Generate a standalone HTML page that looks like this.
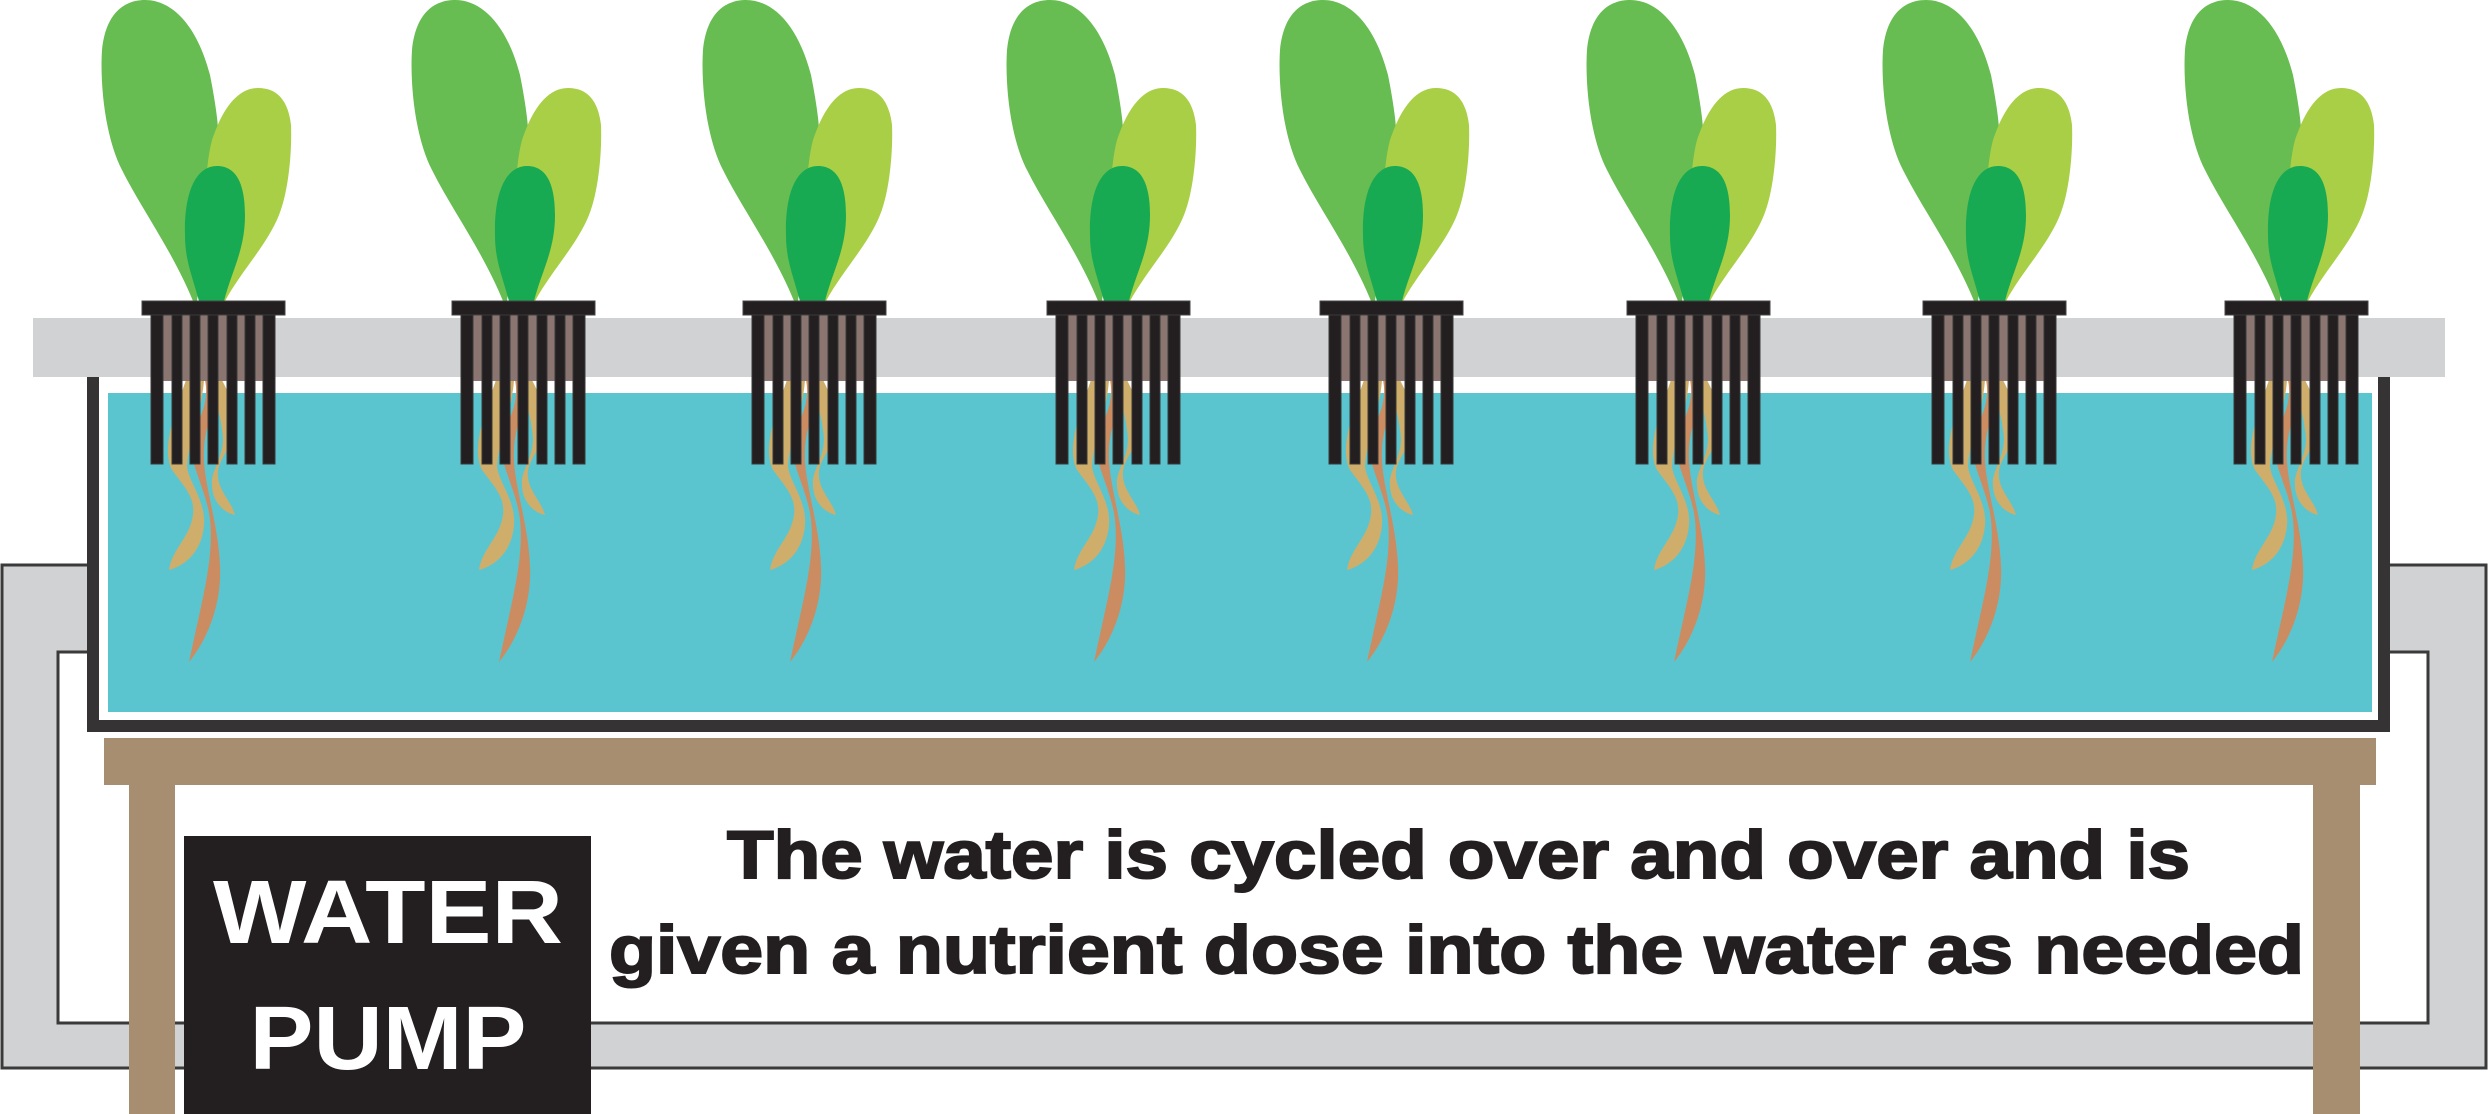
<!DOCTYPE html>
<html><head><meta charset="utf-8"><style>html,body{margin:0;padding:0;background:#fff}svg{display:block}</style></head>
<body>
<svg width="2488" height="1114" viewBox="0 0 2488 1114" xmlns="http://www.w3.org/2000/svg">
<defs>
<g id="plant">
  <path d="M51 301 C30 250 0 210 -20 170 C-38 135 -42 80 -40 50 C-36 10 -15 0 3 0 C30 0 55 25 68 75 C72 95 76 120 76 130 L55 301 Z" fill="#67bc52"/>
  <path d="M83 301 C100 270 125 245 137 215 C147 190 150 150 149 125 C146 100 135 88 116 88 C95 88 80 110 70 140 C62 170 60 230 75 301 Z" fill="#a8cf45"/>
  <path d="M57 301 C50 275 43 260 43 235 C42 190 55 166 75 166 C95 166 103 185 103 215 C103 250 90 270 82 301 Z" fill="#17aa52"/>
  <path d="M44 380 C30 420 20 450 30 470 C45 490 55 500 50 520 C45 540 30 550 27 570 C45 565 60 550 62 525 C64 500 45 480 45 465 C47 440 60 410 62 380 Z" fill="#cfae6b"/>
  <path d="M80 380 C90 400 100 420 88 445 C80 460 70 470 80 490 C85 500 90 505 93 515 C80 512 70 500 70 485 C68 470 85 455 80 430 C78 410 70 395 70 380 Z" fill="#cfae6b"/>
  <path d="M63 380 C68 405 55 420 50 440 C45 460 65 490 68 520 C72 560 60 600 47 662 C65 640 80 605 78 565 C76 520 60 480 62 450 C63 420 78 405 72 380 Z" fill="#cc8c62"/>
  <rect x="9" y="315" width="124" height="66" fill="#8a7570"/>
  <rect x="0" y="301" width="143" height="14" fill="#231f20" stroke="#444" stroke-width="1"/>
  <g fill="#231f20" stroke="#3a3a3a" stroke-width="1">
    <rect x="9" y="315" width="12" height="149"/>
    <rect x="30" y="315" width="10" height="149"/>
    <rect x="48" y="315" width="10" height="149"/>
    <rect x="66" y="315" width="10" height="149"/>
    <rect x="85" y="315" width="10" height="149"/>
    <rect x="103" y="315" width="10" height="149"/>
    <rect x="121" y="315" width="12" height="149"/>
  </g>
</g>
</defs>
<rect x="2" y="565" width="2484" height="503" fill="#d1d2d4" stroke="#3a3a3a" stroke-width="3"/>
<rect x="58" y="652" width="2370" height="371" fill="#fff" stroke="#3a3a3a" stroke-width="3"/>
<rect x="93" y="370" width="2291" height="356" fill="#fff" stroke="#353334" stroke-width="12"/>
<rect x="108" y="393" width="2264" height="319" fill="#5bc5cf"/>
<rect x="33" y="318" width="2412" height="59" fill="#d1d2d4"/>
<rect x="104" y="738" width="2272" height="47" fill="#a88e70"/>
<rect x="129" y="785" width="46" height="329" fill="#a88e70"/>
<rect x="2313" y="785" width="47" height="329" fill="#a88e70"/>
<use href="#plant" x="142" y="0"/>
<use href="#plant" x="452" y="0"/>
<use href="#plant" x="743" y="0"/>
<use href="#plant" x="1047" y="0"/>
<use href="#plant" x="1320" y="0"/>
<use href="#plant" x="1627" y="0"/>
<use href="#plant" x="1923" y="0"/>
<use href="#plant" x="2225" y="0"/>
<rect x="184" y="836" width="407" height="278" fill="#231f20"/>
<g font-family="Liberation Sans, Arial, sans-serif" font-weight="bold" fill="#fff" text-anchor="middle">
  <text x="388" y="943" font-size="90" textLength="350" lengthAdjust="spacingAndGlyphs">WATER</text>
  <text x="388" y="1069" font-size="90" textLength="277" lengthAdjust="spacingAndGlyphs">PUMP</text>
</g>
<g font-family="Liberation Sans, Arial, sans-serif" font-weight="bold" fill="#231f20" stroke="#231f20" stroke-width="2">
  <text x="727" y="878" font-size="68" textLength="1463" lengthAdjust="spacingAndGlyphs">The water is cycled over and over and is</text>
  <text x="609" y="973" font-size="68" textLength="1695" lengthAdjust="spacingAndGlyphs">given a nutrient dose into the water as needed</text>
</g>
</svg>
</body></html>
